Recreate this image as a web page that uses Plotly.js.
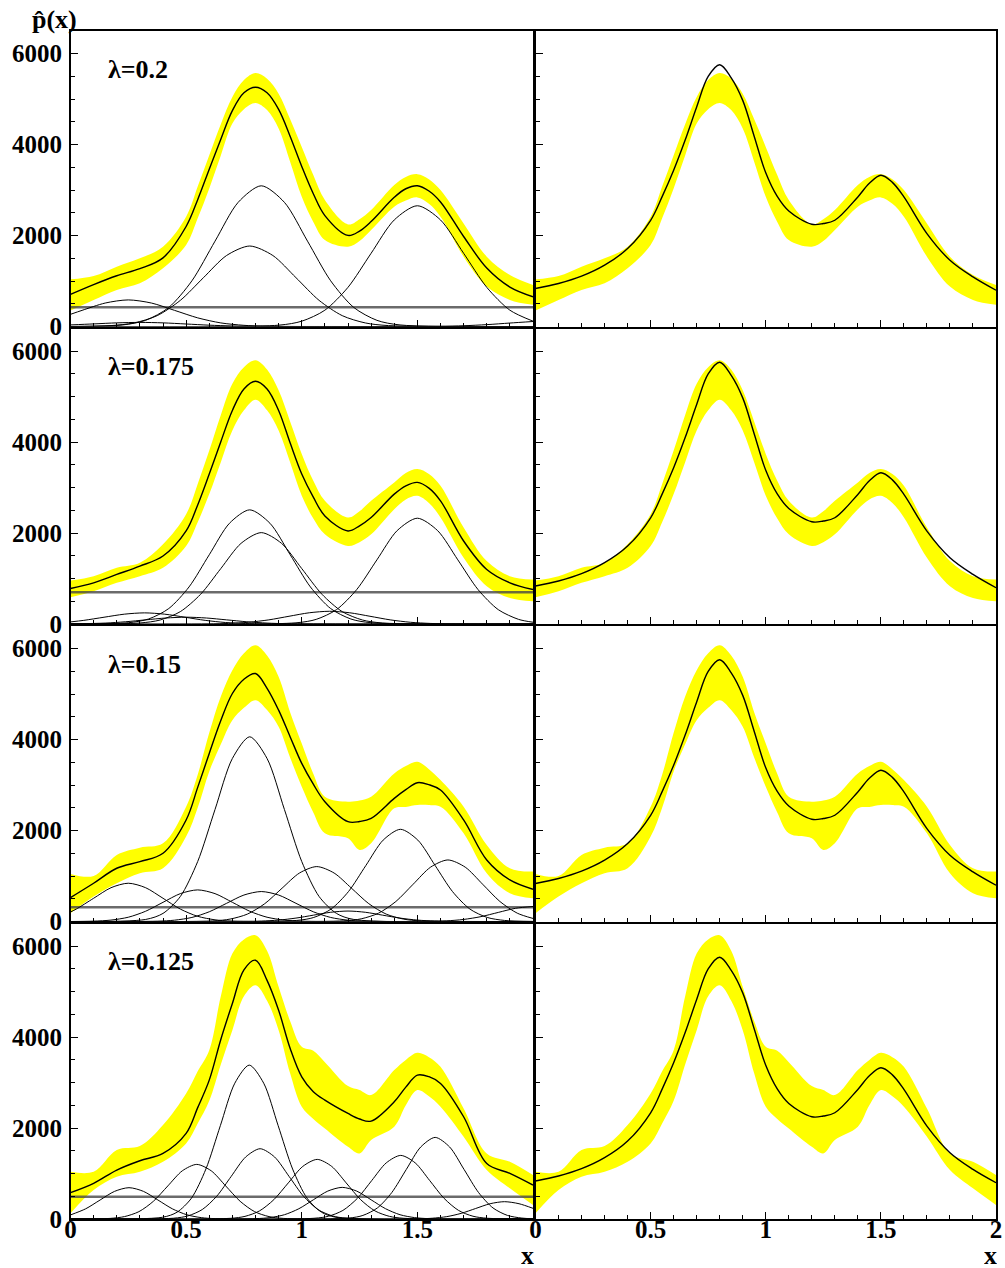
<!DOCTYPE html>
<html><head><meta charset="utf-8">
<script src="https://cdn.plot.ly/plotly-3.0.1.min.js"></script>
<style>html,body{margin:0;padding:0;background:#fff}#chart{width:1005px;height:1268px}</style>
</head><body><div id="chart"></div>
<script>
// ---------------- DATA ----------------
const xGrid = [0,0.1,0.2,0.3,0.4,0.5,0.55,0.6,0.65,0.7,0.75,0.8,0.85,0.9,0.95,1,1.05,1.1,1.2,1.25,1.3,1.4,1.45,1.5,1.55,1.6,1.7,1.8,1.9,2];
const lambdas = ['0.2','0.175','0.15','0.125'];

// true density (right column, black line)
const trueCurve = [835,945,1106,1348,1714,2337,2857,3436,4100,4828,5500,5758,5470,4974,4180,3380,2860,2540,2249,2265,2337,2850,3150,3326,3170,2850,2044,1458,1092,799];

// ---- row 1 : lambda = 0.2
const r1Est = [708,923,1117,1272,1510,2200,2790,3460,4120,4750,5140,5263,5140,4775,4180,3520,2920,2440,2004,2100,2310,2842,3030,3096,2980,2740,1980,1286,868,655];
const r1Hi  = [1039,1112,1317,1500,1756,2415,3080,3768,4450,5049,5420,5575,5450,5122,4560,3951,3330,2780,2246,2360,2561,3110,3290,3351,3240,3000,2268,1537,1134,915];
const r1Lo  = [351,585,805,951,1280,1793,2380,3037,3760,4463,4780,4917,4760,4354,3620,2854,2300,1902,1756,1880,2122,2634,2770,2839,2700,2415,1537,878,585,476];
const r1Base = 424;
const r1AX = [0,0.05,0.15,0.25,0.35,0.45,0.55,0.65,0.75,0.85,2];
const r1AY = [268,355,516,585,516,355,190,79,26,6,0];
const r1BX = [0,0.175,0.275,0.375,0.475,0.575,0.675,0.775,0.875,0.975,1.075,1.175,1.275,1.375,2];
const r1BY = [0,20,78,239,575,1074,1562,1770,1562,1074,575,239,78,20,0];
const r1CX = [0,0.225,0.325,0.425,0.525,0.625,0.725,0.825,0.925,1.025,1.125,1.225,1.325,1.425,2];
const r1CY = [0,34,136,419,1005,1877,2731,3095,2731,1877,1005,419,136,34,0];
const r1DX = [0,0.9,1.0,1.1,1.2,1.3,1.4,1.5,1.6,1.7,1.8,1.9,2.0];
const r1DY = [0,29,117,359,862,1611,2344,2656,2344,1611,862,359,117];
const r1EX = [0,1.4,1.5,1.6,1.7,1.8,1.9,2.0];
const r1EY = [0,0,1,5,17,41,76,110];
const r1FX = [0,0.1,0.2,0.3,0.4,0.5,0.6,0.7,0.8,0.9,2];
const r1FY = [35,57,80,90,80,55,29,12,4,1,0];

// ---- row 2 : lambda = 0.175
const r2Est = [781,906,1090,1274,1495,2047,2620,3299,4010,4698,5170,5339,5170,4698,3980,3299,2790,2378,2047,2160,2342,2857,3040,3115,2990,2710,1826,1200,906,758];
const r2Hi  = [957,1053,1237,1348,1753,2415,3080,3814,4600,5287,5650,5803,5600,5140,4450,3741,3150,2710,2342,2480,2710,3115,3320,3409,3300,3041,2121,1384,1053,979];
const r2Lo  = [589,722,906,1053,1237,1716,2240,2857,3560,4256,4700,4934,4700,4256,3550,2820,2320,1973,1716,1800,1973,2526,2740,2820,2660,2342,1458,832,574,501];
const r2Base = 700;
const r2AX = [0,0.25,0.3375,0.425,0.5125,0.6,0.6875,0.775,0.8625,0.95,1.0375,1.125,1.2125,1.3,2];
const r2AY = [0,28,110,340,815,1523,2216,2511,2216,1523,815,340,110,28,0];
const r2BX = [0,0.3,0.3875,0.475,0.5625,0.65,0.7375,0.825,0.9125,1.0,1.0875,1.175,1.2625,1.35,2];
const r2BY = [0,22,88,272,653,1219,1774,2010,1774,1219,653,272,88,22,0];
const r2CX = [0,0.975,1.0625,1.15,1.2375,1.325,1.4125,1.5,1.5875,1.675,1.7625,1.85,1.9375,2];
const r2CY = [0,26,102,315,756,1411,2054,2327,2054,1411,756,315,102,39];
const r2DX = [0,0.0575,0.145,0.2325,0.32,0.4075,0.495,0.5825,0.67,0.7575,0.845,2];
const r2DY = [46,80,149,216,245,216,149,80,33,11,3,0];
const r2EX = [0,0.15,0.2375,0.325,0.4125,0.5,0.5875,0.675,0.7625,0.85,0.9375,2];
const r2EY = [3,20,49,91,132,150,132,91,49,20,7,0];
const r2FX = [0,0.595,0.6825,0.77,0.8575,0.945,1.0325,1.12,1.2075,1.295,1.3825,1.47,1.5575,1.645,2];
const r2FY = [0,3,12,38,91,170,247,280,247,170,91,38,12,3,0];

// ---- row 3 : lambda = 0.15
const r3Est = [527,842,1171,1318,1501,2233,2950,3697,4420,5015,5330,5454,5130,4649,4060,3477,3020,2635,2196,2200,2269,2709,2900,3053,3010,2892,2233,1354,915,710];
const r3Hi  = [1047,1003,1464,1625,1720,2526,3230,4150,4950,5527,5900,6076,5850,5381,4600,3916,3250,2745,2635,2660,2745,3258,3420,3514,3350,3111,2526,1684,1171,1098];
const r3Lo  = [183,549,842,1061,1171,1867,2500,3302,3900,4429,4700,4868,4650,4282,3600,2965,2400,1940,1830,1574,1720,2489,2520,2562,2560,2526,1940,1061,622,512];
const r3Base = 315;
const r3AX = [0,0.325,0.4,0.475,0.55,0.625,0.7,0.775,0.85,0.925,1.0,1.075,1.15,1.225,2];
const r3AY = [0,45,178,550,1319,2464,3586,4063,3586,2464,1319,550,178,45,0];
const r3BX = [0,0.025,0.1,0.175,0.25,0.325,0.4,0.475,0.55,0.625,0.7,2];
const r3BY = [210,273,511,743,842,743,511,273,114,37,9,0];
const r3CX = [0,0.1,0.175,0.25,0.325,0.4,0.475,0.55,0.625,0.7,0.775,0.85,0.925,1.0,2];
const r3CY = [0,8,31,94,226,422,613,695,613,422,226,94,31,8,0];
const r3DX = [0,0.375,0.45,0.525,0.6,0.675,0.75,0.825,0.9,0.975,1.05,1.125,1.2,1.275,2];
const r3DY = [0,7,29,89,214,400,582,659,582,400,214,89,29,7,0];
const r3EX = [0,0.615,0.69,0.765,0.84,0.915,0.99,1.065,1.14,1.215,1.29,1.365,1.44,1.515,2];
const r3EY = [0,13,53,163,392,733,1066,1208,1066,733,392,163,53,13,0];
const r3FX = [0,0.75,0.825,0.9,0.975,1.05,1.125,1.2,1.275,1.35,1.425,1.5,1.575,1.65,2];
const r3FY = [0,2.5,10,31,75,139,203,230,203,139,75,31,10,2.5,0];
const r3GX = [0,0.977,1.052,1.127,1.202,1.277,1.352,1.427,1.502,1.577,1.652,1.727,1.802,1.877,2];
const r3GY = [0,23,89,274,658,1230,1790,2028,1790,1230,658,274,89,23,2];
const r3HX = [0,1.182,1.257,1.332,1.407,1.482,1.557,1.632,1.707,1.782,1.857,1.932,2];
const r3HY = [0,15,59,183,440,821,1195,1354,1195,821,440,183,67];
const r3IX = [0,1.55,1.625,1.7,1.775,1.85,1.925,2];
const r3IY = [0,4,14,45,107,200,291,330];

// ---- row 4 : lambda = 0.125
const r4Est = [579,784,1077,1282,1443,1883,2450,3055,3950,4740,5480,5692,5250,4593,3750,3128,2800,2615,2322,2200,2154,2579,2900,3165,3130,2982,2249,1220,1004,747];
const r4Hi  = [1040,1040,1516,1604,2066,2762,3250,3714,4900,5839,6150,6242,5900,5106,4350,3788,3700,3450,2923,2835,2725,3275,3500,3656,3560,3348,2432,1443,1260,967];
const r4Lo  = [125,637,930,1040,1260,1663,2100,2600,3400,4154,4900,5143,4800,4154,3200,2469,2200,1993,1590,1443,1736,2029,2500,2835,2700,2469,1810,1077,674,308];
const r4Base = 491;
const r4AX = [0,0.0655,0.128,0.1905,0.253,0.3155,0.378,0.4405,0.503,0.5655,0.628,2];
const r4AY = [90,224,418,608,689,608,418,224,93,30,8,0];
const r4BX = [0,0.171,0.2335,0.296,0.3585,0.421,0.4835,0.546,0.6085,0.671,0.7335,0.796,0.8585,0.921,2];
const r4BY = [0,13,53,162,390,728,1060,1201,1060,728,390,162,53,13,0];
const r4CX = [0,0.398,0.4605,0.523,0.5855,0.648,0.7105,0.773,0.8355,0.898,0.9605,1.023,1.0855,1.148,2];
const r4CY = [0,38,149,458,1099,2053,2987,3385,2987,2053,1099,458,149,38,0];
const r4DX = [0,0.445,0.5075,0.57,0.6325,0.695,0.7575,0.82,0.8825,0.945,1.0075,1.07,1.1325,1.195,2];
const r4DY = [0,17,68,209,502,938,1364,1546,1364,938,502,209,68,17,0];
const r4EX = [0,0.692,0.7545,0.817,0.8795,0.942,1.0045,1.067,1.1295,1.192,1.2545,1.317,1.3795,1.442,2];
const r4EY = [0,15,58,177,426,795,1157,1311,1157,795,426,177,58,15,0];
const r4FX = [0,0.8,0.8625,0.925,0.9875,1.05,1.1125,1.175,1.2375,1.3,1.3625,1.425,1.4875,1.55,2];
const r4FY = [0,8,31,94,226,422,614,696,614,422,226,94,31,8,0];
const r4GX = [0,1.053,1.1155,1.178,1.2405,1.303,1.3655,1.428,1.4905,1.553,1.6155,1.678,1.7405,1.803,2];
const r4GY = [0,16,61,189,454,848,1235,1399,1235,848,454,189,61,16,0];
const r4HX = [0,1.202,1.2645,1.327,1.3895,1.452,1.5145,1.577,1.6395,1.702,1.7645,1.827,1.8895,1.952,2];
const r4HY = [0,20,79,243,583,1089,1584,1795,1584,1089,583,243,79,20,6];
const r4IX = [0,1.502,1.5645,1.627,1.6895,1.752,1.8145,1.877,1.9395,2];
const r4IY = [0,4,17,52,124,231,336,381,336,235];

const xTickVals = [0,0.5,1,1.5,2];
const xTickText = ['0','0.5','1','1.5','2'];

// ---------------- BUILD ----------------
const rows = [
  {est:r1Est, hi:r1Hi, lo:r1Lo, base:r1Base, comps:[[r1AX,r1AY],[r1BX,r1BY],[r1CX,r1CY],[r1DX,r1DY],[r1EX,r1EY],[r1FX,r1FY]]},
  {est:r2Est, hi:r2Hi, lo:r2Lo, base:r2Base, comps:[[r2AX,r2AY],[r2BX,r2BY],[r2CX,r2CY],[r2DX,r2DY],[r2EX,r2EY],[r2FX,r2FY]]},
  {est:r3Est, hi:r3Hi, lo:r3Lo, base:r3Base, comps:[[r3AX,r3AY],[r3BX,r3BY],[r3CX,r3CY],[r3DX,r3DY],[r3EX,r3EY],[r3FX,r3FY],[r3GX,r3GY],[r3HX,r3HY],[r3IX,r3IY]]},
  {est:r4Est, hi:r4Hi, lo:r4Lo, base:r4Base, comps:[[r4AX,r4AY],[r4BX,r4BY],[r4CX,r4CY],[r4DX,r4DY],[r4EX,r4EY],[r4FX,r4FY],[r4GX,r4GY],[r4HX,r4HY],[r4IX,r4IY]]}
];

const W = 1005, H = 1268;
const colPx = [[70.5,533],[535.5,996]];
const rowPx = [[31,326.5],[328.5,624],[626,921.5],[923.5,1219]];
const FONT = "'Liberation Serif', 'Times New Roman', serif";
const tickFont = {family:FONT, size:25, color:'#000', weight:700};

const traces = [];
const layout = {
  width:W, height:H, margin:{l:0,r:0,t:0,b:0},
  paper_bgcolor:'#fff', plot_bgcolor:'#fff', showlegend:false,
  annotations:[]
};

rows.forEach((row, r) => {
  for (let c = 0; c < 2; c++) {
    const idx = r*2 + c + 1;
    const xa = 'x' + (idx === 1 ? '' : idx), ya = 'y' + (idx === 1 ? '' : idx);
    const spl = {shape:'spline', smoothing:1};
    traces.push({x:xGrid, y:row.lo, xaxis:xa, yaxis:ya, mode:'lines', line:Object.assign({width:0, color:'rgba(0,0,0,0)'}, spl), hoverinfo:'skip'});
    traces.push({x:xGrid, y:row.hi, xaxis:xa, yaxis:ya, mode:'lines', fill:'tonexty', fillcolor:'#ffff00', line:Object.assign({width:0, color:'rgba(0,0,0,0)'}, spl), hoverinfo:'skip'});
    if (c === 0) {
      traces.push({x:[0,2], y:[row.base,row.base], xaxis:xa, yaxis:ya, mode:'lines', line:{width:2.5, color:'rgba(70,70,70,0.8)'}, hoverinfo:'skip'});
      row.comps.forEach(cp => {
        traces.push({x:cp[0], y:cp[1], xaxis:xa, yaxis:ya, mode:'lines', line:{width:1, color:'#000', shape:'spline', smoothing:0.8}, hoverinfo:'skip'});
      });
      traces.push({x:xGrid, y:row.est, xaxis:xa, yaxis:ya, mode:'lines', line:Object.assign({width:1.4, color:'#000'}, spl), hoverinfo:'skip'});
    } else {
      traces.push({x:xGrid, y:trueCurve, xaxis:xa, yaxis:ya, mode:'lines', line:Object.assign({width:1.4, color:'#000'}, spl), hoverinfo:'skip'});
    }
    const xd = [colPx[c][0]/W, colPx[c][1]/W];
    const yd = [1 - rowPx[r][1]/H, 1 - rowPx[r][0]/H];
    const xKey = 'xaxis' + (idx === 1 ? '' : idx), yKey = 'yaxis' + (idx === 1 ? '' : idx);
    layout[xKey] = {
      domain:xd, range:[0,2], anchor:ya, showline:true, linecolor:'#000', linewidth:1.6, mirror:true,
      ticks:'inside', ticklen:7, tickwidth:1, tickcolor:'#000',
      tickmode:'array', tickvals: c === 0 ? xTickVals.slice(0,4) : xTickVals, ticktext: c === 0 ? xTickText.slice(0,4) : xTickText,
      showticklabels: r === 3, tickfont:tickFont, ticklabelstandoff:-13,
      minor:{ticks:'inside', ticklen:4, tickwidth:1, tickcolor:'#000', tickmode:'linear', tick0:0, dtick:0.1, showgrid:false},
      showgrid:false, zeroline:false, fixedrange:true
    };
    layout[yKey] = {
      domain:yd, range:[0,6500], anchor:xa, showline:true, linecolor:'#000', linewidth:1.6, mirror:true,
      ticks:'inside', ticklen:7, tickwidth:1, tickcolor:'#000',
      tickmode:'linear', tick0:0, dtick:2000,
      showticklabels: c === 0, tickfont:tickFont, ticklabelstandoff:2,
      minor:{ticks:'inside', ticklen:4, tickwidth:1, tickcolor:'#000', tickmode:'linear', tick0:0, dtick:500, showgrid:false},
      showgrid:false, zeroline:false, fixedrange:true
    };
  }
  layout.annotations.push({
    xref:'paper', yref:'paper', x:106/W, y:1 - (rowPx[r][0]+38)/H, xanchor:'left', yanchor:'middle',
    text:'<b>λ=' + lambdas[r] + '</b>', showarrow:false, font:{family:FONT, size:26, color:'#000'}
  });
});

layout.annotations.push({xref:'paper', yref:'paper', x:30/W, y:1 - 19/H, xanchor:'left', yanchor:'middle',
  text:'<b>p\u0302(x)</b>', showarrow:false, font:{family:FONT, size:26, color:'#000'}});
layout.annotations.push({xref:'paper', yref:'paper', x:527/W, y:1 - 1255/H, xanchor:'center', yanchor:'middle', height:18,
  text:'<b>x</b>', showarrow:false, font:{family:FONT, size:26, color:'#000'}});
layout.annotations.push({xref:'paper', yref:'paper', x:990/W, y:1 - 1255/H, xanchor:'center', yanchor:'middle', height:18,
  text:'<b>x</b>', showarrow:false, font:{family:FONT, size:26, color:'#000'}});

Plotly.newPlot('chart', traces, layout, {displayModeBar:false, staticPlot:true});
</script>
</body></html>
